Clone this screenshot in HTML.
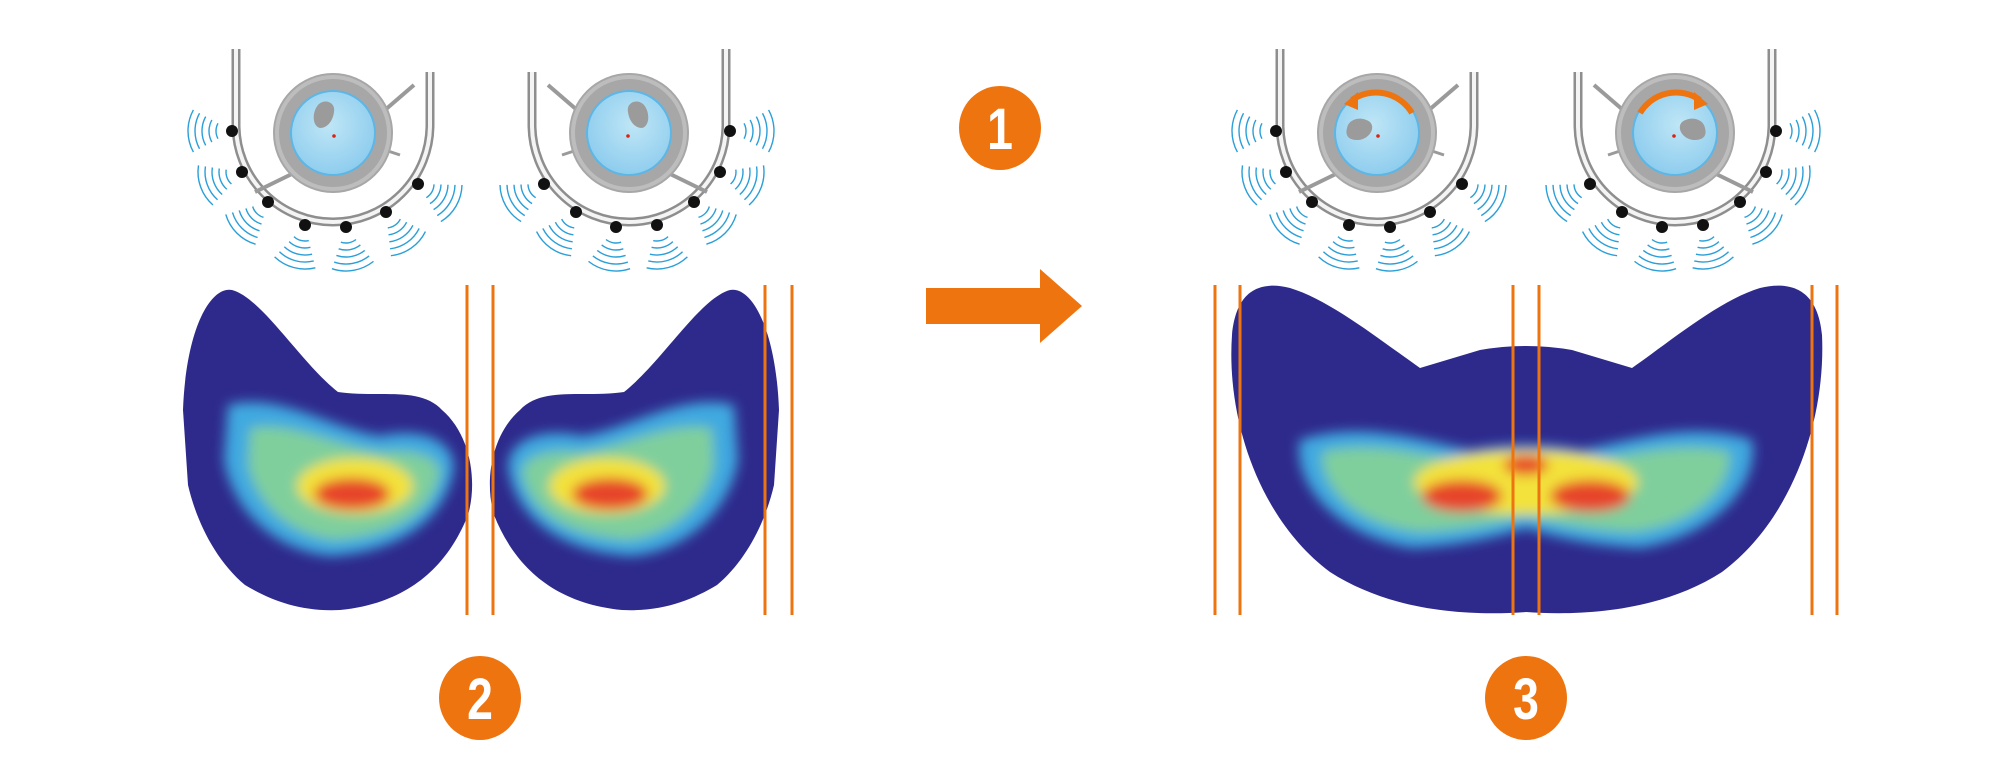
<!DOCTYPE html>
<html><head><meta charset="utf-8"><style>
html,body{margin:0;padding:0;background:#fff;width:2000px;height:774px;overflow:hidden}
svg{display:block}
</style></head><body>
<svg id="s" width="2000" height="774" viewBox="0 0 2000 774" xmlns="http://www.w3.org/2000/svg">
<defs>
<filter id="b6" x="-20%" y="-20%" width="140%" height="140%"><feGaussianBlur stdDeviation="6"/></filter>
<radialGradient id="blue" cx="45%" cy="40%" r="60%"><stop offset="0" stop-color="#bfe6f6"/><stop offset="1" stop-color="#8fcdee"/></radialGradient>
<g id="heatL">
  <path fill="#2e2a8c" d="M183,410 C186,330 210,286 232,290 C262,298 300,362 338,392 C378,398 420,386 442,410 C470,434 478,480 468,515 C448,565 410,603 340,610 C300,612 270,600 245,585 C215,560 196,520 188,485 Z"/>
  <g filter="url(#b6)">
    <path fill="#3fa9e0" d="M228,405 C280,392 330,428 380,436 C414,428 452,436 454,466 C448,515 404,552 330,556 C272,550 232,508 224,460 Z"/>
    <path fill="#7fcf9c" d="M250,428 C292,420 335,446 382,452 C410,448 440,456 440,472 C434,510 398,536 334,540 C286,534 256,502 248,465 Z"/>
    <ellipse cx="355" cy="486" rx="58" ry="28" fill="#f3e23a"/>
    <ellipse cx="352" cy="494" rx="38" ry="16" fill="#e7442a"/>
  </g>
</g>
</defs>
<g id="root"></g>
</svg>
<script>
var NS="http://www.w3.org/2000/svg",root=document.getElementById("root");
function el(t,a,p){var e=document.createElementNS(NS,t);for(var k in a)e.setAttribute(k,a[k]);(p||root).appendChild(e);return e;}
var sensors=[[232,131,180],[242,172,160],[268,202,135],[305,225,105],[346,227,80],[386,212,55],[418,184,30]];
function holder(tr,arrow){
  var g=el("g",{transform:tr});
  sensors.forEach(function(s){
    var a=s[2]*Math.PI/180;
    for(var i=0;i<5;i++){
      var r=16+i*7,sp=0.5;
      var x1=s[0]+r*Math.cos(a-sp),y1=s[1]+r*Math.sin(a-sp),x2=s[0]+r*Math.cos(a+sp),y2=s[1]+r*Math.sin(a+sp);
      el("path",{d:"M"+x1+","+y1+" A"+r+","+r+" 0 0 1 "+x2+","+y2,fill:"none",stroke:"#2a9fd8","stroke-width":1.4},g);
    }
  });
  el("path",{d:"M236,49 L236,125 A97,97 0 0 0 430,125 L430,72",fill:"none",stroke:"#8e8e8e","stroke-width":9},g);
  el("path",{d:"M236,49 L236,125 A97,97 0 0 0 430,125 L430,72",fill:"none",stroke:"#f4f4f4","stroke-width":4},g);
  sensors.forEach(function(s){el("circle",{cx:s[0],cy:s[1],r:6,fill:"#111"},g);});
  el("line",{x1:300,y1:170,x2:255,y2:192,stroke:"#9a9a9a","stroke-width":4},g);
  el("line",{x1:385,y1:110,x2:414,y2:85,stroke:"#9a9a9a","stroke-width":4},g);
  el("line",{x1:385,y1:150,x2:400,y2:155,stroke:"#9a9a9a","stroke-width":3},g);
  el("circle",{cx:333,cy:133,r:60,fill:"#a7a7a7"},g);
  el("circle",{cx:333,cy:133,r:56,fill:"none",stroke:"#bdbdbd","stroke-width":4},g);
  el("circle",{cx:333,cy:133,r:42,fill:"url(#blue)",stroke:"#5cb6e6","stroke-width":2},g);
  el("path",{d:arrow?"M303,128 C305,118 318,116 326,122 C332,128 325,140 313,140 C304,140 301,135 303,128Z":"M318,105 C324,98 336,102 334,112 C333,120 328,128 320,128 C312,126 312,112 318,105Z",fill:"#9b9b9b"},g);
  el("circle",{cx:334,cy:136,r:1.8,fill:"#d21"},g);
  if(arrow){
    el("path",{d:"M368,113 A42,42 0 0 0 308,100",fill:"none",stroke:"#ee7410","stroke-width":6},g);
    el("path",{d:"M300,104 L314,92 L314,110 Z",fill:"#ee7410"},g);
  }
}
holder("",false);
holder("translate(962,0) scale(-1,1)",false);
holder("translate(1044,0)",true);
holder("translate(3052,0) scale(-1,1) translate(1044,0)",true);
el("use",{href:"#heatL"});
el("use",{href:"#heatL",transform:"translate(962,0) scale(-1,1)"});
var R=el("g",{});
el("path",{fill:"#2e2a8c",d:"M1232,335 C1236,292 1258,280 1290,288 C1330,300 1380,340 1420,368 L1480,350 Q1526,342 1572,350 L1632,368 C1672,340 1720,300 1760,288 C1794,280 1818,292 1822,335 C1826,420 1792,520 1722,572 C1660,612 1580,616 1526,612 C1470,616 1392,612 1330,572 C1260,520 1226,420 1232,335 Z"},R);
var C=el("g",{filter:"url(#b6)"},R);
el("path",{fill:"#3fa9e0",d:"M1300,440 C1360,420 1420,440 1470,450 Q1526,440 1582,450 C1632,440 1692,420 1752,440 C1760,480 1720,535 1640,548 Q1580,545 1526,528 Q1472,545 1412,548 C1332,535 1292,480 1300,440 Z"},C);
el("path",{fill:"#7fcf9c",d:"M1322,452 C1372,440 1420,455 1472,462 Q1526,455 1580,462 C1632,455 1680,440 1730,452 C1732,485 1700,525 1632,532 Q1580,530 1526,516 Q1472,530 1420,532 C1352,525 1320,485 1322,452 Z"},C);
el("ellipse",{cx:1526,cy:482,rx:112,ry:32,fill:"#f3e23a"},C);
el("ellipse",{cx:1462,cy:496,rx:40,ry:16,fill:"#e7442a"},C);
el("ellipse",{cx:1590,cy:496,rx:40,ry:16,fill:"#e7442a"},C);
el("ellipse",{cx:1526,cy:465,rx:22,ry:10,fill:"#e7442a"},C);
[467,493,765,792,1215,1240,1513,1539,1812,1837].forEach(function(x){
  el("line",{x1:x,y1:285,x2:x,y2:615,stroke:"#ee7410","stroke-width":3});
});
el("path",{d:"M926,288 L1040,288 L1040,269 L1082,306 L1040,343 L1040,324 L926,324 Z",fill:"#ee7410"});
[[1000,128,"1"],[480,698,"2"],[1526,698,"3"]].forEach(function(c){
  el("ellipse",{cx:c[0],cy:c[1],rx:41,ry:42,fill:"#ee7410"});
  var t=el("text",{x:0,y:0,"font-family":"Liberation Sans, sans-serif","font-weight":"bold","font-size":"58",fill:"#fff","text-anchor":"middle",transform:"translate("+c[0]+","+(c[1]+21)+") scale(0.8,1)"});
  t.textContent=c[2];
});
</script>
</body></html>
